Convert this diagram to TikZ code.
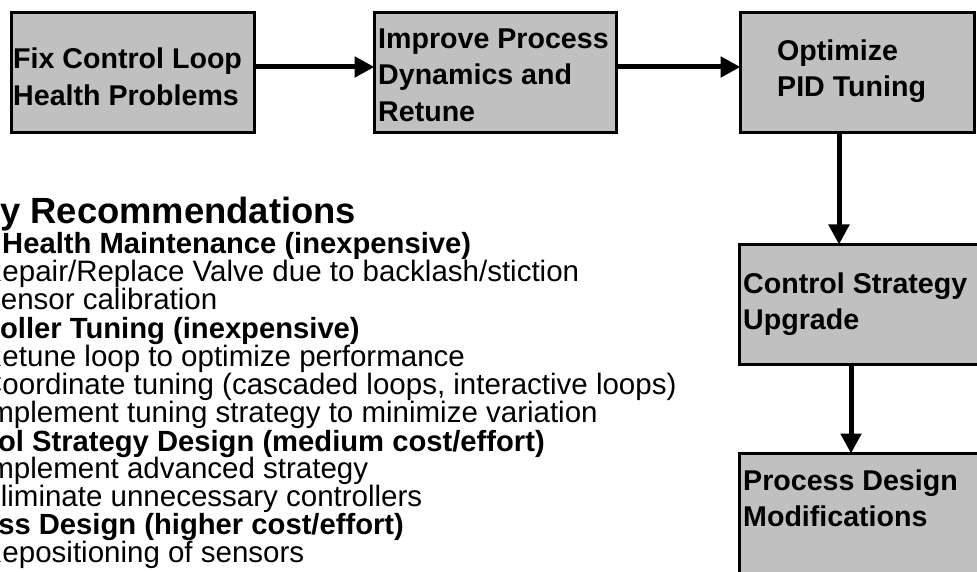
\documentclass[tikz,border=0pt]{standalone}
\usepackage{fontspec}
\setmainfont{Liberation Sans}
\usetikzlibrary{arrows.meta}
\definecolor{boxgray}{HTML}{C0C0C0}
\begin{document}
\begin{tikzpicture}[x=1pt,y=-1pt,
  box/.style={draw=black, line width=3pt, fill=boxgray, inner sep=0pt, outer sep=0pt},
  boxtxt/.style={font=\fontsize{28.6}{36.5}\selectfont\bfseries, align=left, anchor=base west, inner sep=0pt},
  arr/.style={line width=5pt, -{Triangle[length=20pt,width=20pt]}},
  ttl/.style={font=\fontsize{36.4}{36}\selectfont\bfseries, anchor=base west, inner sep=0pt},
  hd/.style={font=\fontsize{29.2}{29}\selectfont\bfseries, anchor=base west, inner sep=0pt},
  it/.style={font=\fontsize{29.5}{29}\selectfont, anchor=base west, inner sep=0pt}]
\useasboundingbox (0,0) rectangle (977,572);
\begin{scope}
\clip (0,0) rectangle (977,572);
% boxes
\node[box, minimum width=243pt, minimum height=120pt] (b1) at (133,72.5) {};
\node[box, minimum width=242pt, minimum height=120pt] (b2) at (495.5,72.5) {};
\node[box, minimum width=234pt, minimum height=120pt] (b3) at (857.5,72.5) {};
\node[box, minimum width=249pt, minimum height=120pt] (b4) at (864,304.5) {};
\node[box, minimum width=249pt, minimum height=145pt] (b5) at (864,526) {};
% box texts (anchored at the baseline of the last line)
\node[boxtxt] (t1) at (13,105.5) {Fix Control Loop\\Health Problems};
\node[boxtxt] (t2) at (378,121.5) {Improve Process\\Dynamics and\\Retune};
\node[boxtxt] (t3) at (777,97) {Optimize\\PID Tuning};
\node[boxtxt] (t4) at (743,329.5) {Control Strategy\\Upgrade};
\node[boxtxt] (t5) at (743,526.5) {Process Design\\Modifications};
% connectors
\coordinate (h) at (0,67);
\coordinate (v1) at (839,0);
\coordinate (v2) at (851,0);
\draw[arr] (b1.east |- h) -- (b2.west |- h);
\draw[arr] (b2.east |- h) -- (b3.west |- h);
\draw[arr] (v1 |- b3.south) -- (v1 |- b4.north);
\draw[arr] (v2 |- b4.south) -- (v2 |- b5.north);
% list
\node[ttl] (l0) at (0,223) {y Recommendations};
\node[hd] (l1) at (2,253) {Health Maintenance (inexpensive)};
\node[it] (l2) at (-19,281) {Repair/Replace Valve due to backlash/stiction};
\node[it] (l3) at (-19,309) {Sensor calibration};
\node[hd] (l4) at (-78,338) {Controller Tuning (inexpensive)};
\node[it] (l5) at (-19,366) {Retune loop to optimize performance};
\node[it] (l6) at (-19,394) {Coordinate tuning (cascaded loops, interactive loops)};
\node[it] (l7) at (-19,422) {Implement tuning strategy to minimize variation};
\node[hd] (l8) at (-80,451) {Control Strategy Design (medium cost/effort)};
\node[it] (l9) at (-19,478) {Implement advanced strategy};
\node[it] (l10) at (-19,506) {Eliminate unnecessary controllers};
\node[hd] (l11) at (-83,534) {Process Design (higher cost/effort)};
\node[it] (l12) at (-19,562) {Repositioning of sensors};
\end{scope}
\end{tikzpicture}
\end{document}
